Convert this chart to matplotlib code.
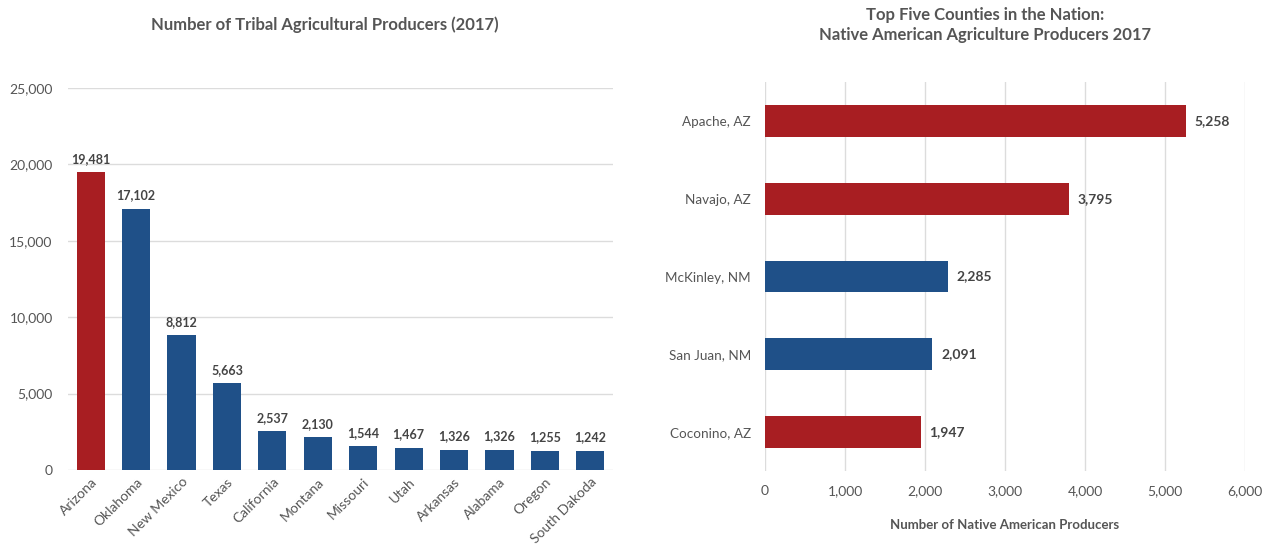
import matplotlib
matplotlib.use("Agg")
import matplotlib.pyplot as plt

states = ["Arizona", "Oklahoma", "New Mexico", "Texas", "California", "Montana",
          "Missouri", "Utah", "Arkansas", "Alabama", "Oregon", "South Dakoda"]
state_vals = [19481, 17102, 8812, 5663, 2537, 2130, 1544, 1467, 1326, 1326, 1255, 1242]
state_highlight = [True] + [False] * 11

counties = ["Apache, AZ", "Navajo, AZ", "McKinley, NM", "San Juan, NM", "Coconino, AZ"]
county_vals = [5258, 3795, 2285, 2091, 1947]
county_highlight = [True, True, False, False, True]

RED = "#A81E22"
BLUE = "#1F5088"
TXT = "#555555"
GRID = "#DCDCDC"

plt.rcParams["font.family"] = ["Lato", "DejaVu Sans"]

fig = plt.figure(figsize=(12.71, 5.44), dpi=100)

# Left chart
ax1 = fig.add_axes([68 / 1271, 1 - 470 / 544, 545 / 1271, 382 / 544])
x = range(len(states))
cols = [RED if h else BLUE for h in state_highlight]
ax1.bar(x, state_vals, width=0.62, color=cols, zorder=3)
for xi, v in zip(x, state_vals):
    ax1.text(xi, v + 500, f"{v:,}", ha="center", va="bottom", fontsize=9,
             fontweight="bold", color="#444444")
ax1.set_xlim(-0.5, len(states) - 0.5)
ax1.set_ylim(0, 25000)
yt = [0, 5000, 10000, 15000, 20000, 25000]
ax1.set_yticks(yt)
ax1.set_yticklabels([f"{t:,}" for t in yt])
ax1.set_xticks(list(x))
ax1.set_xticklabels(states, rotation=45, ha="right", rotation_mode="anchor")
ax1.grid(axis="y", color=GRID, linewidth=1, zorder=0)
for s in ax1.spines.values():
    s.set_visible(False)
ax1.tick_params(axis="both", length=0, colors=TXT, labelsize=10)
ax1.tick_params(axis="y", pad=11)
ax1.tick_params(axis="x", pad=4)
fig.text(325 / 1271, 1 - 25 / 544, "Number of Tribal Agricultural Producers (2017)",
         ha="center", va="center", fontsize=12, fontweight="bold", color=TXT)

# Right chart
ax2 = fig.add_axes([765 / 1271, 1 - 471 / 544, 480 / 1271, 389 / 544])
y = range(len(counties))
cols2 = [RED if h else BLUE for h in county_highlight]
ax2.barh(y, county_vals, height=0.41, color=cols2, zorder=3)
for yi, v in zip(y, county_vals):
    ax2.text(v + 110, yi, f"{v:,}", ha="left", va="center", fontsize=10,
             fontweight="bold", color="#444444")
ax2.set_ylim(len(counties) - 0.5, -0.5)
ax2.set_xlim(0, 6000)
xt = [0, 1000, 2000, 3000, 4000, 5000, 6000]
ax2.set_xticks(xt)
ax2.set_xticklabels([f"{t:,}" for t in xt])
ax2.set_yticks(list(y))
ax2.set_yticklabels(counties)
ax2.grid(axis="x", color=GRID, linewidth=1, zorder=0)
for s in ax2.spines.values():
    s.set_visible(False)
ax2.tick_params(axis="y", length=0, colors=TXT, labelsize=9.7, pad=10)
ax2.tick_params(axis="x", length=0, colors=TXT, labelsize=10, pad=10)
ax2.set_xlabel("Number of Native American Producers", fontsize=9.5, fontweight="bold",
               color=TXT, labelpad=16)
fig.text(985 / 1271, 1 - 25 / 544,
         "Top Five Counties in the Nation:\nNative American Agriculture Producers 2017",
         ha="center", va="center", fontsize=12, fontweight="bold", color=TXT,
         linespacing=1.3)

fig.savefig("out.png", dpi=100, facecolor="white")
